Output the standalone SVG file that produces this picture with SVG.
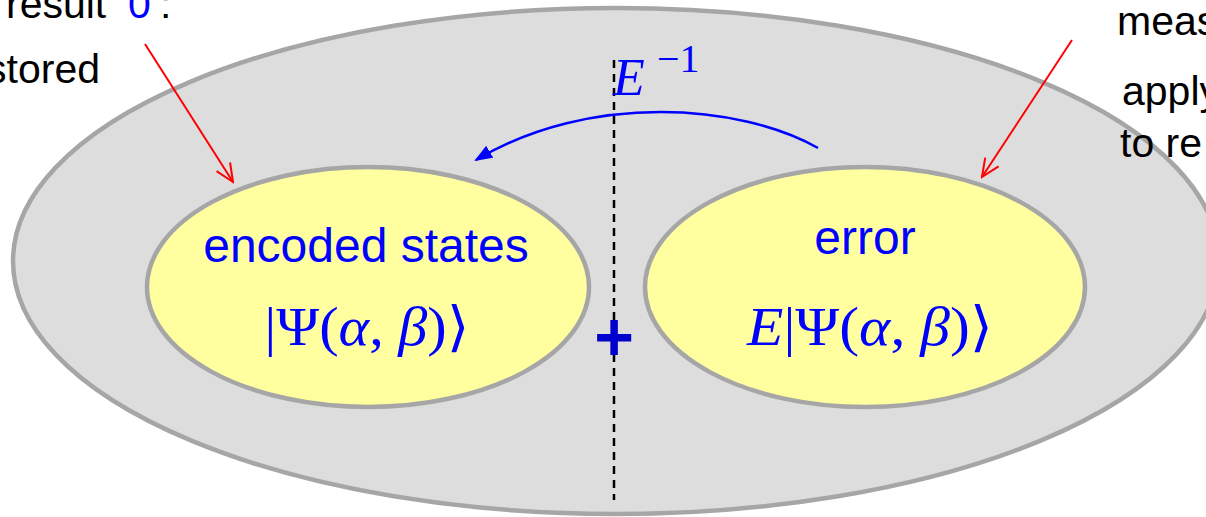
<svg xmlns="http://www.w3.org/2000/svg" width="1206" height="517" viewBox="0 0 1206 517">
<style>
.sans{font-family:"Liberation Sans",Arial,sans-serif;}
.math{font-family:"Liberation Serif","DejaVu Serif",serif;fill:#0000ff;}
.blue{fill:#0000ff;}
.side{font-size:41px;fill:#000;}
.node{font-size:48px;fill:#0000ff;}
.ell{stroke:#a6a6a6;stroke-width:4.5;}
</style>
<defs>
<marker id="tri" markerWidth="18" markerHeight="14" refX="16" refY="7" orient="auto" markerUnits="userSpaceOnUse">
<path d="M0,0 L18,7 L0,14 Z" fill="#0000ff"/>
</marker>
<marker id="vee" markerWidth="22" markerHeight="20" refX="20" refY="10" orient="auto" markerUnits="userSpaceOnUse">
<path d="M2,2 L20,10 L2,18" fill="none" stroke="#ff0000" stroke-width="2"/>
</marker>
</defs>
<rect width="1206" height="517" fill="#ffffff"/>
<g id="outer">
<ellipse cx="616" cy="261" rx="603" ry="253" fill="#dddddd" class="ell"/>
</g>
<g id="encoded">
<ellipse cx="368" cy="287" rx="221" ry="120" fill="#ffffa0" class="ell"/>
<text class="sans node" x="366" y="262" text-anchor="middle">encoded states</text>
<text class="math" x="367" y="345" font-size="54" text-anchor="middle" textLength="205" lengthAdjust="spacingAndGlyphs">|Ψ(<tspan font-style="italic">α</tspan>, <tspan font-style="italic">β</tspan>)⟩</text>
</g>
<g id="error">
<ellipse cx="865" cy="287" rx="220" ry="120" fill="#ffffa0" class="ell"/>
<text class="sans node" x="865" y="254" text-anchor="middle">error</text>
<text class="math" x="870" y="345" font-size="54" text-anchor="middle" textLength="246" lengthAdjust="spacingAndGlyphs"><tspan font-style="italic">E</tspan>|Ψ(<tspan font-style="italic">α</tspan>, <tspan font-style="italic">β</tspan>)⟩</text>
</g>
<g id="connectors">
<line x1="614" y1="60" x2="614" y2="500" stroke="#000" stroke-width="2.5" stroke-dasharray="8,6"/>
<path d="M818,148 C740,104 590,92 476,160" fill="none" stroke="#0000ff" stroke-width="2.5" marker-end="url(#tri)"/>
<line x1="145" y1="44" x2="233" y2="182" stroke="#ff0000" stroke-width="2" marker-end="url(#vee)"/>
<line x1="1072" y1="40" x2="982" y2="177" stroke="#ff0000" stroke-width="2" marker-end="url(#vee)"/>
</g>
<g id="labels">
<text class="math" x="613" y="95" font-size="52" font-style="italic">E</text>
<text class="math" x="657" y="72" font-size="40">−1</text>
<text class="sans" x="614" y="360" font-size="68" font-weight="bold" fill="#0000cc" text-anchor="middle">+</text>
<text class="sans side" x="6" y="18">result<tspan class="blue" x="128">0</tspan><tspan x="160">:</tspan></text>
<text class="sans side" x="100" y="83" text-anchor="end">stored</text>
<text class="sans side" x="1117" y="35">meas</text>
<text class="sans side" x="1122" y="105">apply</text>
<text class="sans side" x="1120" y="157">to re</text>
</g>
</svg>
